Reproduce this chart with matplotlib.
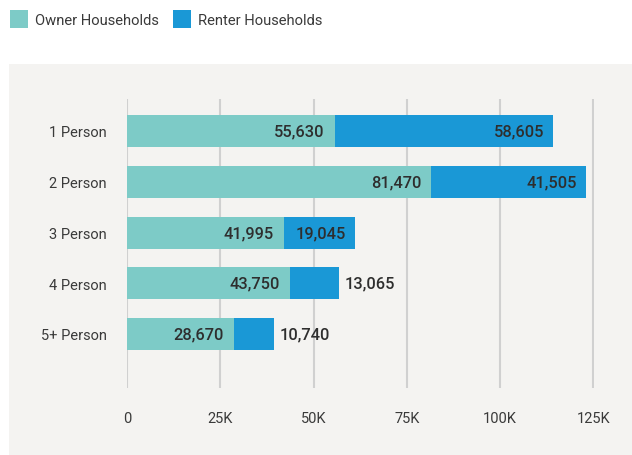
import matplotlib
matplotlib.use("Agg")
import matplotlib.pyplot as plt
from matplotlib.patches import Rectangle

categories = ["1 Person", "2 Person", "3 Person", "4 Person", "5+ Person"]
owner = [55630, 81470, 41995, 43750, 28670]
renter = [58605, 41505, 19045, 13065, 10740]
series_names = ["Owner Households", "Renter Households"]
xticks = [0, 25000, 50000, 75000, 100000, 125000]
xticklabels = ["0", "25K", "50K", "75K", "100K", "125K"]

owner_color = "#7dcbc7"
renter_color = "#1a98d6"
text_color = "#2e2e2e"

plt.rcParams["font.family"] = ["Roboto", "DejaVu Sans"]

W, H = 632, 456
fig = plt.figure(figsize=(W / 100, H / 100), dpi=100)
fig.patch.set_facecolor("white")
fig.add_artist(Rectangle((9 / W, 0), 1 - 9 / W, 1 - 65 / H, transform=fig.transFigure,
                         facecolor="#f4f3f1", edgecolor="none", zorder=0))

left, right = 127 / W, 593.5 / W
bottom, top = 1 - 389 / H, 1 - 100 / H
ax = fig.add_axes([left, bottom, right - left, top - bottom])
ax.set_facecolor("none")
ax.set_xlim(0, 125000)
spacing = 50.75
ax.set_ylim(4 + 54 / spacing, -32 / spacing)
bh = 32 / spacing
ypos = list(range(len(categories)))

ax.barh(ypos, owner, height=bh, color=owner_color, zorder=3)
ax.barh(ypos, renter, left=owner, height=bh, color=renter_color, zorder=3)

px = 125000 / (593.5 - 127)
lab_kw = dict(va="center", fontsize=11.8, fontweight="medium", color=text_color, zorder=4)
for y, o, r in zip(ypos, owner, renter):
    ax.text(o - 10 * px, y, f"{o:,}", ha="right", **lab_kw)
    if r > 15000:
        ax.text(o + r - 9 * px, y, f"{r:,}", ha="right", **lab_kw)
    else:
        ax.text(o + r + 6 * px, y, f"{r:,}", ha="left", clip_on=False, **lab_kw)

ax.set_xticks(xticks)
ax.set_xticklabels(xticklabels)
ax.set_yticks(ypos)
ax.set_yticklabels(categories)
ax.tick_params(axis="x", length=0, pad=16.5, labelsize=10.5, labelcolor="#3a3a3a")
ax.tick_params(axis="y", length=0, pad=14.5, labelsize=10.5, labelcolor="#3a3a3a")
ax.grid(axis="x", color="#d0d0d0", linewidth=1.5, zorder=1)
for s in ax.spines.values():
    s.set_visible(False)

# legend drawn manually in pixel positions
legend_items = [(series_names[0], owner_color, 10, 35), (series_names[1], renter_color, 173, 198)]
for name, col, sx, tx in legend_items:
    fig.add_artist(Rectangle((sx / W, 1 - 29 / H), 18 / W, 18 / H, transform=fig.transFigure,
                             facecolor=col, edgecolor="none"))
    fig.text(tx / W, 1 - 21 / H, name, ha="left", va="center", fontsize=10.6, color="#3a3a3a")

fig.savefig("out.png", dpi=100)
